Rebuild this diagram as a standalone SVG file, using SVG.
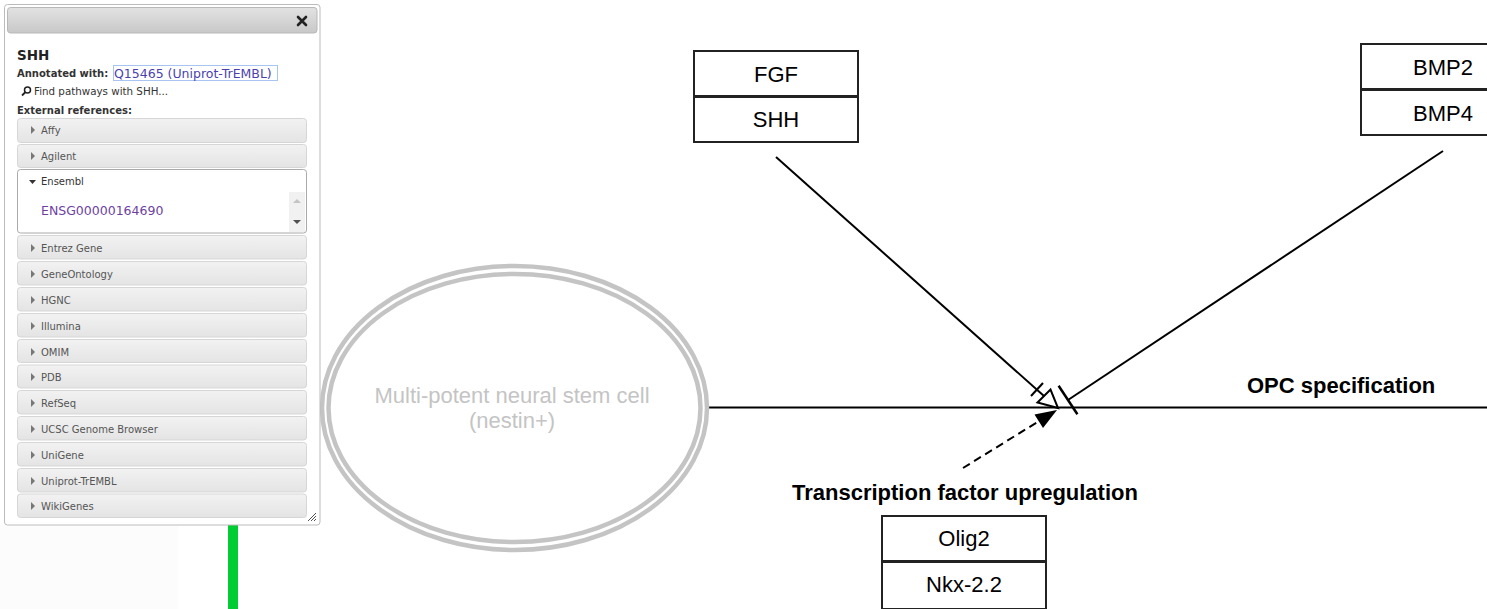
<svg xmlns="http://www.w3.org/2000/svg" width="1487" height="609" viewBox="0 0 1487 609">
<defs>
<style>
.row{fill:url(#rowg);stroke:#d6d6d6;stroke-width:1}
.rl{font-family:"DejaVu Sans",Verdana,sans-serif;font-size:10px;fill:#555}
.tri{fill:#777}
.box{fill:#fff;stroke:#222;stroke-width:2}
.bt{font-family:"Liberation Sans",Arial,sans-serif;font-size:22px;fill:#000;text-anchor:middle}
.lbl{font-family:"Liberation Sans",Arial,sans-serif;font-size:22px;font-weight:bold;fill:#000}
.ln{stroke:#000;stroke-width:2;fill:none}
.cell{fill:none;stroke:#c4c4c4;stroke-width:4.5}
</style>
<linearGradient id="rowg" x1="0" y1="0" x2="0" y2="1">
<stop offset="0" stop-color="#f2f2f2"/>
<stop offset="0.5" stop-color="#ebebeb"/>
<stop offset="1" stop-color="#e4e4e4"/>
</linearGradient>
<linearGradient id="titleg" x1="0" y1="0" x2="0" y2="1">
<stop offset="0" stop-color="#e2e2e2"/>
<stop offset="1" stop-color="#c8c8c8"/>
</linearGradient>
</defs>
<rect width="1487" height="609" fill="#fff"/>
<rect x="0" y="525" width="178" height="84" fill="#fcfcfc"/>

<g id="connectors">
<line class="ln" x1="709" y1="407.5" x2="1487" y2="407.5"/>
<g id="fgf-stimulation">
<line class="ln" x1="776" y1="157" x2="1044" y2="396"/>
<line class="ln" x1="1031" y1="396" x2="1043" y2="383"/>
<polygon points="1058,408 1037.5,402.5 1050.5,389.5" fill="#fff" stroke="#000" stroke-width="2"/>
</g>
<g id="bmp-inhibition">
<line class="ln" x1="1443" y1="151" x2="1068" y2="400"/>
<line x1="1058.6" y1="385.8" x2="1077.4" y2="414.2" stroke="#000" stroke-width="2.5"/>
</g>
<g id="tf-dashed">
<line class="ln" x1="963" y1="468" x2="1040" y2="420.5" stroke-dasharray="8,5"/>
<polygon points="1057,410 1034.5,414.5 1043,428" fill="#000"/>
</g>
</g>

<g id="green-line">
<rect x="228" y="525" width="10" height="84" fill="#00cc33"/>
</g>

<g id="stem-cell">
<ellipse class="cell" cx="514.5" cy="408" rx="192.5" ry="142"/>
<ellipse class="cell" cx="514.5" cy="408" rx="186" ry="134"/>
<text x="512" y="403" font-family="Liberation Sans, Arial, sans-serif" font-size="22" fill="#c4c4c4" text-anchor="middle">Multi-potent neural stem cell</text>
<text x="512" y="428" font-family="Liberation Sans, Arial, sans-serif" font-size="22" fill="#c4c4c4" text-anchor="middle">(nestin+)</text>
</g>

<g id="fgf-shh">
<rect class="box" x="694" y="51" width="164" height="45"/>
<text class="bt" x="776" y="82">FGF</text>
<rect class="box" x="694" y="97" width="164" height="45"/>
<text class="bt" x="776" y="127">SHH</text>
</g>

<g id="bmp">
<rect class="box" x="1361" y="44" width="164" height="45"/>
<text class="bt" x="1443" y="75">BMP2</text>
<rect class="box" x="1361" y="90" width="164" height="45"/>
<text class="bt" x="1443" y="121">BMP4</text>
</g>

<g id="olig">
<rect class="box" x="882" y="516" width="164" height="45"/>
<text class="bt" x="964" y="546">Olig2</text>
<rect class="box" x="882" y="562" width="164" height="47"/>
<text class="bt" x="964" y="592">Nkx-2.2</text>
</g>

<g id="opc-label">
<text class="lbl" x="1247" y="393">OPC specification</text>
</g>
<g id="tf-label">
<text class="lbl" x="792" y="500">Transcription factor upregulation</text>
</g>

<g id="info-panel">
<rect x="4.5" y="4.5" width="315.5" height="520.5" rx="3" fill="#fff" stroke="#bbb"/>
<rect x="7.5" y="7.5" width="309.5" height="25.5" rx="3" fill="url(#titleg)" stroke="#b8b8b8"/>
<path d="M298,17 L306,25 M306,17 L298,25" stroke="#222" stroke-width="2.6" stroke-linecap="round"/>
<text x="17" y="60" font-family="DejaVu Sans, Verdana, sans-serif" font-size="13.5" font-weight="bold" fill="#222">SHH</text>
<text x="17" y="77" font-family="DejaVu Sans, Verdana, sans-serif" font-size="10" font-weight="bold" fill="#333">Annotated with:</text>
<rect x="113.5" y="65.5" width="164" height="15" fill="none" stroke="#a8c4f0" stroke-width="1"/>
<text x="114" y="77.5" font-family="DejaVu Sans, Verdana, sans-serif" font-size="12.5" fill="#4b3fb0">Q15465 (Uniprot-TrEMBL)</text>
<circle cx="27.5" cy="90" r="3" fill="none" stroke="#222" stroke-width="1.5"/>
<line x1="25.5" y1="92" x2="22" y2="95.5" stroke="#222" stroke-width="1.8"/>
<text x="34" y="95" font-family="DejaVu Sans, Verdana, sans-serif" font-size="10.3" fill="#333">Find pathways with SHH...</text>
<text x="17" y="114" font-family="DejaVu Sans, Verdana, sans-serif" font-size="10" font-weight="bold" fill="#333">External references:</text>

<g id="row-affy"><rect class="row" x="17.5" y="118.5" width="289" height="24" rx="3"/><path class="tri" d="M31,126 L35,130 L31,134 Z"/><text class="rl" x="41" y="134">Affy</text></g>
<g id="row-agilent"><rect class="row" x="17.5" y="144.5" width="289" height="23" rx="3"/><path class="tri" d="M31,152 L35,156 L31,160 Z"/><text class="rl" x="41" y="160">Agilent</text></g>
<g id="row-ensembl">
<rect x="17.5" y="169.5" width="289" height="63.5" rx="3" fill="#fff" stroke="#aaa"/>
<path d="M29,180 L36,180 L32.5,184 Z" fill="#333"/>
<text x="41" y="185" font-family="DejaVu Sans, Verdana, sans-serif" font-size="10" fill="#333">Ensembl</text>
<text x="41" y="215" font-family="DejaVu Sans, Verdana, sans-serif" font-size="12.5" fill="#6e3fa3">ENSG00000164690</text>
<rect x="289" y="192" width="16" height="40" fill="#f1f1f1"/>
<path d="M293,203 L297,199 L301,203 Z" fill="#c4c4c4"/>
<path d="M293,220 L301,220 L297,224 Z" fill="#505050"/>
</g>
<g id="row-entrez"><rect class="row" x="17.5" y="235.5" width="289" height="23.5" rx="3"/><path class="tri" d="M31,244 L35,248 L31,252 Z"/><text class="rl" x="41" y="251.5">Entrez Gene</text></g>
<g id="row-go"><rect class="row" x="17.5" y="261.5" width="289" height="23.5" rx="3"/><path class="tri" d="M31,270 L35,274 L31,278 Z"/><text class="rl" x="41" y="277.5">GeneOntology</text></g>
<g id="row-hgnc"><rect class="row" x="17.5" y="287.5" width="289" height="23.5" rx="3"/><path class="tri" d="M31,296 L35,300 L31,304 Z"/><text class="rl" x="41" y="303.5">HGNC</text></g>
<g id="row-illumina"><rect class="row" x="17.5" y="313.5" width="289" height="23.5" rx="3"/><path class="tri" d="M31,322 L35,326 L31,330 Z"/><text class="rl" x="41" y="329.5">Illumina</text></g>
<g id="row-omim"><rect class="row" x="17.5" y="339.5" width="289" height="23" rx="3"/><path class="tri" d="M31,348 L35,352 L31,356 Z"/><text class="rl" x="41" y="355.5">OMIM</text></g>
<g id="row-pdb"><rect class="row" x="17.5" y="365" width="289" height="23" rx="3"/><path class="tri" d="M31,373 L35,377 L31,381 Z"/><text class="rl" x="41" y="380.5">PDB</text></g>
<g id="row-refseq"><rect class="row" x="17.5" y="390.5" width="289" height="23.5" rx="3"/><path class="tri" d="M31,399 L35,403 L31,407 Z"/><text class="rl" x="41" y="406.5">RefSeq</text></g>
<g id="row-ucsc"><rect class="row" x="17.5" y="416.5" width="289" height="23.5" rx="3"/><path class="tri" d="M31,425 L35,429 L31,433 Z"/><text class="rl" x="41" y="432.5">UCSC Genome Browser</text></g>
<g id="row-unigene"><rect class="row" x="17.5" y="442.5" width="289" height="23.5" rx="3"/><path class="tri" d="M31,451 L35,455 L31,459 Z"/><text class="rl" x="41" y="458.5">UniGene</text></g>
<g id="row-uniprot"><rect class="row" x="17.5" y="468.5" width="289" height="23.5" rx="3"/><path class="tri" d="M31,477 L35,481 L31,485 Z"/><text class="rl" x="41" y="484.5">Uniprot-TrEMBL</text></g>
<g id="row-wikigenes"><rect class="row" x="17.5" y="494" width="289" height="23.5" rx="3"/><path class="tri" d="M31,502 L35,506 L31,510 Z"/><text class="rl" x="41" y="510">WikiGenes</text></g>
<path d="M308,521 L316,513 M311,521 L316,516 M314,521 L316,519" stroke="#555" stroke-width="1"/>
</g>
</svg>
